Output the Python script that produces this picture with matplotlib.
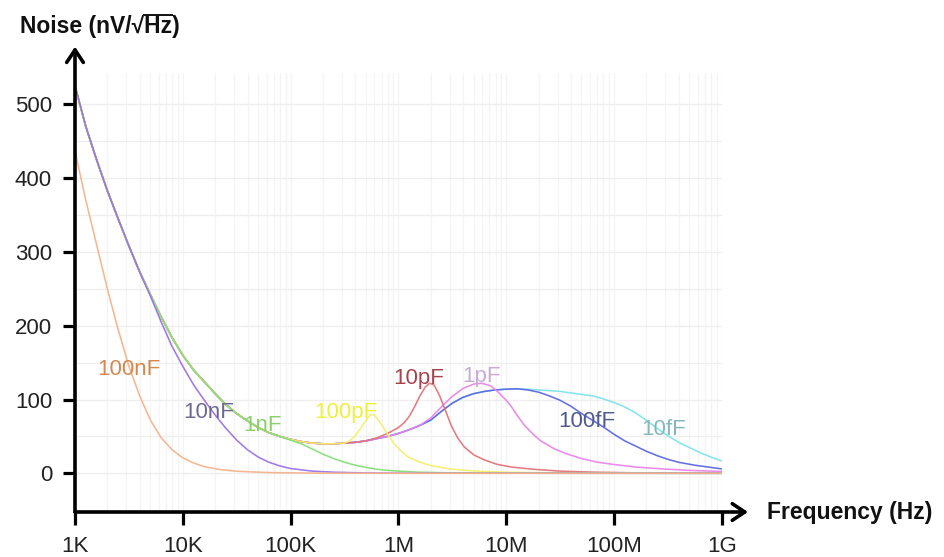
import numpy as np
import matplotlib
matplotlib.use("Agg")
import matplotlib.pyplot as plt
from matplotlib.lines import Line2D
from matplotlib.ticker import FixedLocator, FixedFormatter, LogLocator, NullFormatter

plt.rcParams["font.family"] = ["Liberation Sans", "DejaVu Sans"]

# ---- data: log10(frequency / Hz) and noise density (nV/sqrt(Hz)) per feedback capacitance ----
lgf_100nF = [3.0, 3.1, 3.2, 3.3, 3.4, 3.5, 3.6, 3.7, 3.8, 3.9, 4.0, 4.1, 4.2, 4.35, 4.5, 4.8,
             5.2, 6.0, 9.0]
nz_100nF = [437, 370, 310, 250, 195, 145, 105, 72, 48, 32, 21, 14, 9, 5, 2.8, 1,
            0.3, 0.05, 0.0]

lgf_10nF = [3.0, 3.1, 3.2, 3.3, 3.4, 3.5, 3.6, 3.7, 3.8, 3.9, 4.0, 4.1, 4.2, 4.3, 4.4, 4.5,
            4.6, 4.7, 4.8, 4.9, 5.0, 5.2, 5.4, 5.7, 6.0, 9.0]
nz_10nF = [525, 470, 425, 383, 345, 308, 273, 240, 205, 172, 145, 120, 99, 79, 61, 45,
           32, 22, 15, 10, 6.5, 3, 1.5, 0.5, 0.2, 0.0]

lgf_1nF = [3.0, 3.1, 3.2, 3.3, 3.4, 3.5, 3.6, 3.7, 3.8, 3.9, 4.0, 4.1, 4.2, 4.3, 4.4, 4.5,
           4.6, 4.7, 4.8, 4.9, 5.0, 5.1, 5.2, 5.3, 5.4, 5.5, 5.6, 5.7, 5.8, 5.9, 6.0, 6.2,
           6.5, 7.0, 9.0]
nz_1nF = [525, 470, 425, 383, 345, 308, 273, 242, 212, 184, 160, 140, 124, 108, 93, 81,
          71, 62, 55, 50, 45, 40, 33, 26, 20, 15, 11, 8, 5.5, 4, 3, 1.5,
          0.6, 0.2, 0.0]

lgf_100pF = [3.0, 3.1, 3.2, 3.3, 3.4, 3.5, 3.6, 3.7, 3.8, 3.9, 4.0, 4.1, 4.2, 4.3, 4.4, 4.5,
             4.6, 4.7, 4.8, 4.9, 5.0, 5.1, 5.2, 5.3, 5.4, 5.5, 5.55, 5.6, 5.65, 5.7, 5.74,
             5.77, 5.8, 5.84, 5.9, 5.96, 6.02, 6.09, 6.2, 6.3, 6.5, 6.7, 7.0, 7.5, 9.0]
nz_100pF = [525, 470, 425, 383, 345, 308, 273, 242, 212, 184, 160, 140, 124, 108, 93, 81,
            71, 62, 55, 50, 46, 43, 41, 40, 40, 41, 44, 51, 61, 72, 79,
            80, 75, 67, 53, 40, 31, 22, 15, 10.5, 5.5, 3.2, 1.5, 0.5, 0.1]

lgf_10pF = [3.0, 3.1, 3.2, 3.3, 3.4, 3.5, 3.6, 3.7, 3.8, 3.9, 4.0, 4.1, 4.2, 4.3, 4.4, 4.5,
            4.6, 4.7, 4.8, 4.9, 5.0, 5.1, 5.2, 5.3, 5.4, 5.5, 5.6, 5.7, 5.8, 5.9, 6.0, 6.05,
            6.1, 6.15, 6.2, 6.25, 6.29, 6.33, 6.38, 6.44, 6.49, 6.55, 6.61, 6.7, 6.8, 6.92,
            7.05, 7.25, 7.5, 7.8, 8.2, 9.0]
nz_10pF = [525, 470, 425, 383, 345, 308, 273, 242, 212, 184, 160, 140, 124, 108, 93, 81,
           71, 62, 55, 50, 46, 43, 41, 40, 40, 41, 42, 44, 48, 54, 62, 68,
           77, 90, 105, 117, 122, 120, 106, 84, 65, 48, 36, 25, 18, 12,
           8.5, 5.5, 3, 1.6, 0.7, 0.2]

lgf_1pF = [3.0, 3.1, 3.2, 3.3, 3.4, 3.5, 3.6, 3.7, 3.8, 3.9, 4.0, 4.1, 4.2, 4.3, 4.4, 4.5,
           4.6, 4.7, 4.8, 4.9, 5.0, 5.1, 5.2, 5.3, 5.4, 5.5, 5.6, 5.7, 5.8, 5.9, 6.0, 6.1,
           6.2, 6.3, 6.4, 6.49, 6.6, 6.7, 6.77, 6.85, 6.92, 7.0, 7.05, 7.1, 7.17, 7.25,
           7.32, 7.45, 7.55, 7.7, 7.85, 8.0, 8.2, 8.45, 8.7, 9.0]
nz_1pF = [525, 470, 425, 383, 345, 308, 273, 242, 212, 184, 160, 140, 124, 108, 93, 81,
          71, 62, 55, 50, 46, 43, 41, 40, 40, 41, 42, 44, 47, 50, 54, 59,
          65, 75, 90, 103, 115, 121, 122, 119, 111, 99, 90, 79, 65, 53,
          44, 33, 27, 20, 15, 12, 8.5, 6, 4, 2.5]

lgf_100fF = [3.0, 3.1, 3.2, 3.3, 3.4, 3.5, 3.6, 3.7, 3.8, 3.9, 4.0, 4.1, 4.2, 4.3, 4.4, 4.5,
             4.6, 4.7, 4.8, 4.9, 5.0, 5.1, 5.2, 5.3, 5.4, 5.5, 5.6, 5.7, 5.8, 5.9, 6.0, 6.1,
             6.2, 6.3, 6.4, 6.5, 6.6, 6.7, 6.8, 6.9, 7.0, 7.1, 7.2, 7.3, 7.4, 7.5, 7.6, 7.7,
             7.8, 7.9, 8.0, 8.1, 8.2, 8.3, 8.4, 8.5, 8.6, 8.75, 8.9, 9.0]
nz_100fF = [525, 470, 425, 383, 345, 308, 273, 242, 212, 184, 160, 140, 124, 108, 93, 81,
            71, 62, 55, 50, 46, 43, 41, 40, 40, 41, 42, 44, 47, 50, 54, 59,
            65, 72, 84, 95, 103, 108, 111, 113, 114, 114.5, 113, 110, 105, 99, 91, 81,
            72, 63, 53, 44, 37, 30, 24, 19, 15, 11, 8, 6]

lgf_10fF = [3.0, 3.1, 3.2, 3.3, 3.4, 3.5, 3.6, 3.7, 3.8, 3.9, 4.0, 4.1, 4.2, 4.3, 4.4, 4.5,
            4.6, 4.7, 4.8, 4.9, 5.0, 5.1, 5.2, 5.3, 5.4, 5.5, 5.6, 5.7, 5.8, 5.9, 6.0, 6.1,
            6.2, 6.3, 6.4, 6.5, 6.6, 6.7, 6.8, 6.9, 7.0, 7.1, 7.2, 7.3, 7.4, 7.5, 7.6, 7.7,
            7.8, 7.9, 8.0, 8.1, 8.2, 8.3, 8.4, 8.5, 8.6, 8.7, 8.8, 8.9, 9.0]
nz_10fF = [525, 470, 425, 383, 345, 308, 273, 242, 212, 184, 160, 140, 124, 108, 93, 81,
           71, 62, 55, 50, 46, 43, 41, 40, 40, 41, 42, 44, 47, 50, 54, 59,
           65, 72, 84, 95, 103, 108, 111, 113, 114, 114.5, 114, 113, 112, 111, 109, 107,
           105, 101, 96, 90, 82, 72, 61, 51, 42, 35, 28, 22, 17]

series_names = ["10fF", "100fF", "1pF", "10pF", "100pF", "1nF", "10nF", "100nF"]
series_lgf = [lgf_10fF, lgf_100fF, lgf_1pF, lgf_10pF, lgf_100pF, lgf_1nF, lgf_10nF, lgf_100nF]
series_nz = [nz_10fF, nz_100fF, nz_1pF, nz_10pF, nz_100pF, nz_1nF, nz_10nF, nz_100nF]
line_colors = ["#7fe3ea", "#5b68e2", "#ea84ea", "#e27479", "#f5ef6c", "#86de78", "#9a72e6", "#f5b38c"]
text_colors = ["#86b6c0", "#4f5b8c", "#c9acd6", "#a8434e", "#eef03a", "#8dcf6c", "#6d6a8e", "#d5884f"]
label_lgf = [8.46, 7.75, 6.77, 6.19, 5.51, 4.74, 4.24, 3.50]
label_nz = [59, 70, 131, 128, 82, 65, 83, 140]

x_tick_vals = [1e3, 1e4, 1e5, 1e6, 1e7, 1e8, 1e9]
x_tick_labels = ["1K", "10K", "100K", "1M", "10M", "100M", "1G"]
y_tick_vals = [0, 100, 200, 300, 400, 500]

# ---- figure and axes placement (pixels) ----
W, H = 944, 557
fig = plt.figure(figsize=(W / 100, H / 100), dpi=100)
px_left, px_right, px_top, px_bot = 75, 721.7, 73, 512
ax = fig.add_axes([px_left / W, 1 - px_bot / H, (px_right - px_left) / W, (px_bot - px_top) / H])

ax.set_xscale("log")
ax.set_xlim(1e3, 1e9)
ax.set_ylim(-52.4, 542.4)

for lg, nz, c in zip(series_lgf, series_nz, line_colors):
    ax.plot(10 ** np.asarray(lg), nz, color=c, lw=1.15, alpha=0.95,
            solid_joinstyle="round", solid_capstyle="round", zorder=3)

for name, lg, nz, c in zip(series_names, label_lgf, label_nz, text_colors):
    ax.text(10 ** lg, nz, name, color=c, fontsize=16, ha="center", va="center", zorder=4)

# ticks and grid
ax.xaxis.set_major_locator(FixedLocator(x_tick_vals))
ax.xaxis.set_major_formatter(FixedFormatter(x_tick_labels))
ax.xaxis.set_minor_locator(LogLocator(base=10, subs=np.arange(2, 10)))
ax.xaxis.set_minor_formatter(NullFormatter())
ax.yaxis.set_major_locator(FixedLocator(y_tick_vals))
ax.yaxis.set_minor_locator(FixedLocator([50, 150, 250, 350, 450]))

ax.tick_params(axis="both", which="major", direction="out", width=2.3, color="black",
               labelsize=16, labelcolor="#222222")
ax.tick_params(axis="x", which="major", length=9.5, pad=7.5)
ax.tick_params(axis="y", which="major", length=8.5, pad=8)
ax.tick_params(which="minor", length=0)

ax.grid(True, axis="x", which="both", color="#f4f4f4", lw=0.9, zorder=0)
ax.grid(True, axis="y", which="both", color="#eeeeee", lw=0.9, zorder=0)
ax.set_axisbelow(True)

for s in ax.spines.values():
    s.set_visible(False)

# arrowed axes
arrow_kw = dict(arrowstyle="->,head_length=0.45,head_width=0.3", lw=2.6, color="black",
                shrinkA=0, shrinkB=0, mutation_scale=20)
ax.annotate("", xy=(1.0407, 0), xytext=(0, 0), xycoords="axes fraction",
            arrowprops=arrow_kw, annotation_clip=False)
ax.annotate("", xy=(0, 1.06), xytext=(0, 0), xycoords="axes fraction",
            arrowprops=arrow_kw, annotation_clip=False)

title_kw = dict(fontsize=16.5, fontweight="bold", color="#111111")
fig.text(767 / W, 1 - 512 / H, "Frequency (Hz)", ha="left", va="center", **title_kw)

# y-axis title with a radical sign; the vinculum is drawn over "Hz"
ty_base = 33.5
ytitle = "Noise (nV/\u221aHz)"
fig.text(20 / W, 1 - ty_base / H, ytitle, ha="left", va="baseline", **title_kw)
renderer = fig.canvas.get_renderer()


def right_edge(s):
    t = fig.text(20 / W, 1 - ty_base / H, s, ha="left", va="baseline", **title_kw)
    x = t.get_window_extent(renderer).x1
    t.remove()
    return x


xa = right_edge("Noise (nV/\u221a") - 1.5
xb = right_edge("Noise (nV/\u221aHz") + 0.5
em = 16.5 * 100 / 72
y_bar = (H - ty_base) + 0.80 * em
fig.add_artist(Line2D([xa / W, xb / W], [y_bar / H, y_bar / H], transform=fig.transFigure,
                      color="#111111", lw=1.4, solid_capstyle="butt"))

fig.savefig("out.png", dpi=100, facecolor="white")
